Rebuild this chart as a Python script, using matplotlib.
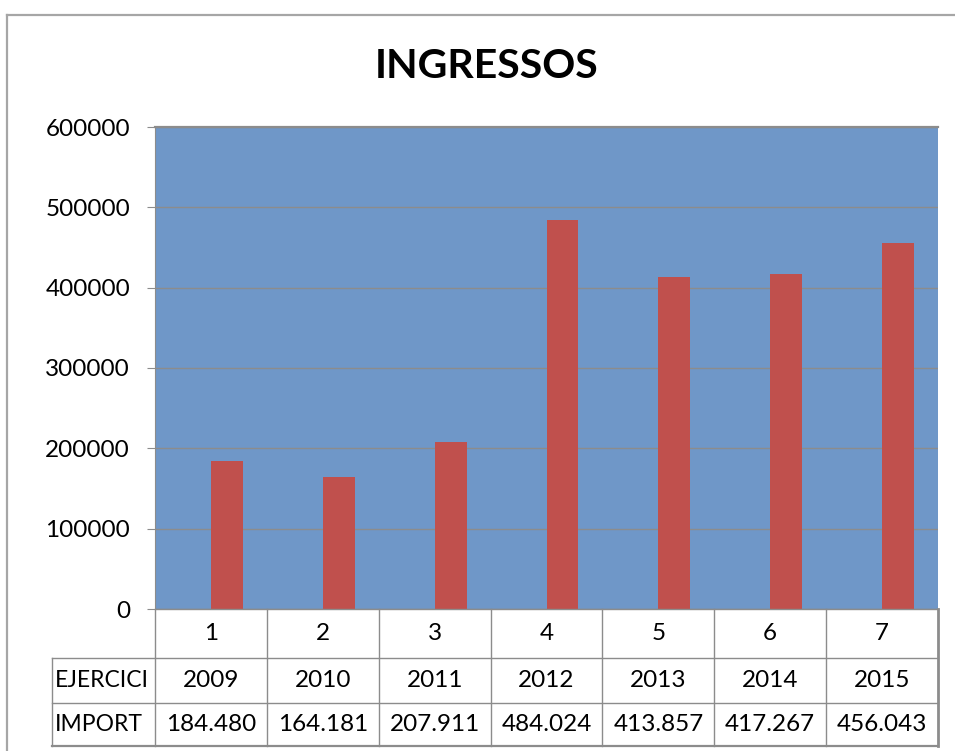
import matplotlib.pyplot as plt
from matplotlib.lines import Line2D

# datos del grafico
indices = ['1', '2', '3', '4', '5', '6', '7']
ejercicios = [2009, 2010, 2011, 2012, 2013, 2014, 2015]
importes = [184480, 164181, 207911, 484024, 413857, 417267, 456043]
ticks_y = [0, 100000, 200000, 300000, 400000, 500000, 600000]

AZUL = '#6F97C8'
ROJO = '#C0504D'
GRIS = '#8C8C8C'
FUENTE = 'Lato'
TAM = 17.5

W, H = 955, 751
fig = plt.figure(figsize=(W / 100, H / 100), dpi=100)
plt.rcParams['font.family'] = [FUENTE, 'DejaVu Sans']

def px(x0, y0, x1, y1):
    # convierte una caja en pixeles (origen arriba izq) a fraccion de figura
    return [x0 / W, 1 - y1 / H, (x1 - x0) / W, (y1 - y0) / H]

# marco exterior del grafico
fig.add_artist(Line2D([7 / W, 7 / W], [0, 1 - 15 / H], color='#A6A6A6', lw=1.6))
fig.add_artist(Line2D([7 / W, 1], [1 - 15 / H, 1 - 15 / H], color='#A6A6A6', lw=1.6))

# area del grafico
ax = fig.add_axes(px(155, 127, 938, 609))
ax.set_facecolor(AZUL)
x = range(len(importes))
ax.bar([i + 0.143 for i in x], importes, width=0.286, color=ROJO, zorder=3)
ax.set_xlim(-0.5, len(importes) - 0.5)
ax.set_ylim(0, 600000)
ax.set_yticks(ticks_y)
ax.set_yticklabels([str(t) for t in ticks_y], fontsize=TAM)
ax.tick_params(axis='y', length=6, color=GRIS, pad=12)
ax.set_xticks([])
ax.grid(axis='y', color=GRIS, lw=1.0, zorder=1)
for s in ['right', 'bottom']:
    ax.spines[s].set_visible(False)
ax.spines['left'].set_color(GRIS)
ax.spines['top'].set_color(GRIS)
ax.spines['top'].set_linewidth(1.6)

# tabla de datos debajo
tb = fig.add_axes(px(155, 609, 938, 746))
tb.set_xlim(-0.5, len(importes) - 0.5)
tb.set_ylim(0, 137)
tb.axis('off')
x_izq = -0.5 - (155 - 52) / 112
filas = [88, 43, 0]  # bordes de fila (pixeles desde abajo)
kw = dict(color=GRIS, lw=1.0, clip_on=False)
tb.plot([-0.5, 6.5], [137, 137], **kw)
for y in filas[:2]:
    tb.plot([x_izq, 6.5], [y, y], **kw)
tb.plot([x_izq, 6.5], [0, 0], color=GRIS, lw=1.6, clip_on=False)
tb.plot([x_izq, x_izq], [0, 88], **kw)
for i in range(len(importes)):
    tb.plot([i - 0.5, i - 0.5], [0, 137], **kw)
tb.plot([6.5, 6.5], [0, 137], color=GRIS, lw=2.0, clip_on=False)

for i in x:
    tb.text(i, 112.5, indices[i], ha='center', va='center', fontsize=TAM)
    tb.text(i, 65.5, str(ejercicios[i]), ha='center', va='center', fontsize=TAM)
    tb.text(i, 21.5, f'{importes[i]:,}'.replace(',', '.'), ha='center', va='center', fontsize=TAM)
tb.text(x_izq + 0.025, 65.5, 'EJERCICI', ha='left', va='center', fontsize=16.5)
tb.text(x_izq + 0.025, 21.5, 'IMPORT', ha='left', va='center', fontsize=16.5)

# titulo
fig.text(487 / W, 1 - 67 / H, 'INGRESSOS', ha='center', va='center',
         fontsize=29.5, fontweight='bold')

fig.savefig('out.png', dpi=100)
